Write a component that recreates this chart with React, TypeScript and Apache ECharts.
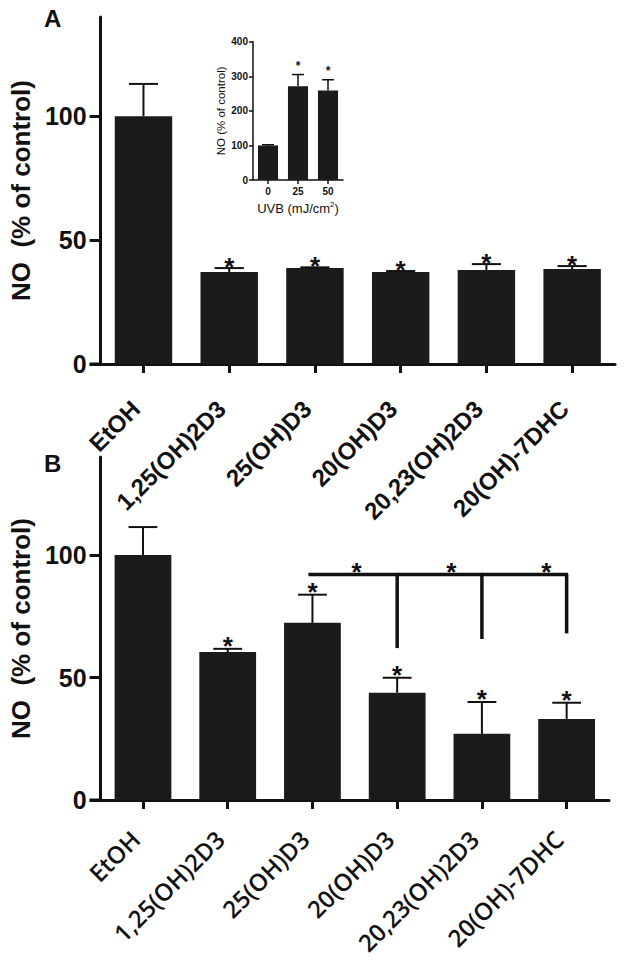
import React, { useEffect, useRef } from "react";
import * as echarts from "echarts";

// ---------- data ----------
const categories = ["EtOH", "1,25(OH)2D3", "25(OH)D3", "20(OH)D3", "20,23(OH)2D3", "20(OH)-7DHC"];
const meanA = [100, 37.1, 38.7, 37.1, 37.9, 38.3];
const errA = [13, 1.6, 0.3, 0.4, 2.4, 1.2];
const sigA = [0, 1, 1, 1, 1, 1];
const meanB = [100, 60.4, 72.3, 43.8, 27.0, 33.1];
const errB = [11.4, 1.3, 11.5, 6.1, 13.0, 6.6];
const sigB = [0, 1, 1, 1, 1, 1];
const insetCategories = ["0", "25", "50"];
const insetMean = [100, 271, 259];
const insetErr = [2, 34, 31];
const insetSig = [0, 1, 1];
const yTicksMain = [0, 50, 100];
const yTicksInset = [0, 100, 200, 300, 400];
const bracketFrom = 2;
const bracketLevel = 92;
const bracketDrops = [
  [3, 62],
  [4, 65.7],
  [5, 68],
];
const bracketStars = [2.52, 3.64, 4.76];

const ARIAL = "'Liberation Sans', Arial, Helvetica, sans-serif";
const OPEN = "'Open Sans', 'Liberation Sans', sans-serif";
const INK = "#111111";
const BAR = "#1b1b1b";

function errRenderer(capFrac: number, lw: number, starSize: number, starGap: number) {
  return (params: any, api: any) => {
    const i = api.value(0);
    const m = api.value(1);
    const e = api.value(2);
    const s = api.value(3);
    const top = api.coord([i, m]);
    const end = api.coord([i, m + e]);
    const half = api.size([1, 0])[0] * capFrac;
    const children: any[] = [];
    if (e > 0) {
      children.push({
        type: "line",
        shape: { x1: top[0], y1: top[1], x2: end[0], y2: end[1] },
        style: { stroke: INK, lineWidth: lw },
      });
      children.push({
        type: "line",
        shape: { x1: end[0] - half, y1: end[1], x2: end[0] + half, y2: end[1] },
        style: { stroke: INK, lineWidth: lw },
      });
    }
    if (s) {
      children.push({
        type: "text",
        x: end[0],
        y: end[1] - starGap,
        style: {
          text: "*",
          fontSize: starSize,
          fontWeight: "bold",
          fontFamily: ARIAL,
          fill: INK,
          align: "center",
          verticalAlign: "middle",
        },
      });
    }
    return { type: "group", children };
  };
}

// short extension of the x axis line to the left of the y axis (Prism style)
function stubRenderer(params: any, api: any) {
  const p = api.coord([api.value(0), 0]);
  const band = api.size([1, 0])[0];
  const ox = p[0] - band / 2;
  return {
    type: "line",
    shape: { x1: ox - 11, y1: p[1], x2: ox, y2: p[1] },
    style: { stroke: INK, lineWidth: 3 },
  };
}

function bracketRenderer(params: any, api: any) {
  const k = params.dataIndex;
  const x = api.value(0);
  const y = api.value(1);
  const sx = api.value(2);
  const prevX = k === 0 ? bracketFrom : bracketDrops[k - 1][0];
  const band = api.size([1, 0])[0];
  const p0 = api.coord([prevX, bracketLevel]);
  const p1 = api.coord([x, bracketLevel]);
  const p2 = api.coord([x, y]);
  const sBase = api.coord([Math.floor(sx), bracketLevel]);
  const starX = sBase[0] + (sx - Math.floor(sx)) * band;
  const lw = 3.5;
  return {
    type: "group",
    children: [
      {
        type: "line",
        shape: { x1: k === 0 ? p0[0] - 4 : p0[0], y1: p0[1], x2: p1[0] + 1.5, y2: p1[1] },
        style: { stroke: INK, lineWidth: lw },
      },
      {
        type: "line",
        shape: { x1: p1[0], y1: p1[1], x2: p2[0], y2: p2[1] },
        style: { stroke: INK, lineWidth: lw },
      },
      {
        type: "text",
        x: starX,
        y: p0[1] - 3,
        style: {
          text: "*",
          fontSize: 26,
          fontWeight: "bold",
          fontFamily: ARIAL,
          fill: INK,
          align: "center",
          verticalAlign: "middle",
        },
      },
    ],
  };
}

function mainY(gridIndex: number) {
  return {
    gridIndex,
    type: "value",
    min: 0,
    max: 140,
    interval: 50,
    axisLine: { show: true, lineStyle: { color: INK, width: 3 } },
    axisTick: { show: true, length: 11, lineStyle: { color: INK, width: 3 }, customValues: yTicksMain },
    axisLabel: {
      customValues: yTicksMain,
      formatter: (v: number) => (yTicksMain.indexOf(v) >= 0 ? String(v) : ""),
      fontSize: 25,
      fontWeight: "bold",
      fontFamily: ARIAL,
      color: INK,
      margin: 14,
    },
    splitLine: { show: false },
    name: "NO  (% of control)",
    nameLocation: "middle",
    nameGap: 56,
    nameTextStyle: { fontSize: 26, fontWeight: "bold", fontFamily: ARIAL, color: INK },
  };
}

function mainX(gridIndex: number, font: string, weight: any, size: number, margin: number, padEnd: number) {
  return {
    gridIndex,
    type: "category",
    data: categories,
    axisLine: { show: true, lineStyle: { color: INK, width: 3 } },
    axisTick: { show: true, alignWithLabel: true, length: 9, lineStyle: { color: INK, width: 3 } },
    axisLabel: {
      rotate: 45,
      interval: 0,
      fontSize: size,
      fontWeight: weight,
      fontFamily: font,
      color: INK,
      margin,
      padding: [0, padEnd, 0, 0],
    },
    splitLine: { show: false },
  };
}

export default function App() {
  const ref = useRef<HTMLDivElement>(null);
  useEffect(() => {
    if (!ref.current) return;
    const chart = echarts.init(ref.current, undefined, { renderer: "svg" });
    const option: any = {
      animation: false,
      backgroundColor: "#ffffff",
      grid: [
        { left: 93, top: 17, width: 522, height: 347 },
        { left: 93, top: 457, width: 516, height: 343 },
        { left: 253, top: 41.7, width: 90, height: 138.3 },
      ],
      xAxis: [
        mainX(0, ARIAL, "bold", 24, 33, 11),
        mainX(1, OPEN, 600, 24, 27, 11),
        {
          gridIndex: 2,
          type: "category",
          data: insetCategories,
          axisLine: { show: true, lineStyle: { color: INK, width: 1.5 } },
          axisTick: { show: true, alignWithLabel: true, length: 4, lineStyle: { color: INK, width: 1.5 } },
          axisLabel: { fontSize: 10, fontWeight: "bold", fontFamily: ARIAL, color: INK, margin: 6 },
          name: "UVB (mJ/cm{sup|2})",
          nameLocation: "middle",
          nameGap: 20,
          nameTextStyle: {
            fontSize: 13,
            fontFamily: ARIAL,
            color: INK,
            rich: { sup: { fontSize: 8, fontFamily: ARIAL, color: INK, padding: [0, 0, 8, 0] } },
          },
        },
      ],
      yAxis: [
        mainY(0),
        mainY(1),
        {
          gridIndex: 2,
          type: "value",
          min: 0,
          max: 400,
          interval: 100,
          axisLine: { show: true, lineStyle: { color: INK, width: 1.5 } },
          axisTick: { show: true, length: 4, lineStyle: { color: INK, width: 1.5 }, customValues: yTicksInset },
          axisLabel: {
            customValues: yTicksInset,
            fontSize: 10,
            fontWeight: "bold",
            fontFamily: ARIAL,
            color: INK,
            margin: 5,
          },
          splitLine: { show: false },
          name: "NO (% of control)",
          nameLocation: "middle",
          nameGap: 25,
          nameTextStyle: { fontSize: 11.5, fontFamily: ARIAL, color: INK },
        },
      ],
      graphic: [
        { type: "text", left: 44, top: 6, style: { text: "A", fontSize: 24, fontWeight: "bold", fontFamily: ARIAL, fill: INK } },
        { type: "text", left: 44, top: 451, style: { text: "B", fontSize: 24, fontWeight: "bold", fontFamily: ARIAL, fill: INK } },
      ],
      series: [
        { type: "bar", xAxisIndex: 0, yAxisIndex: 0, data: meanA, barCategoryGap: "33%", itemStyle: { color: BAR }, z: 2 },
        {
          type: "custom",
          xAxisIndex: 0,
          yAxisIndex: 0,
          data: meanA.map((m, i) => [i, m, errA[i], sigA[i]]),
          renderItem: errRenderer(0.17, 2, 26, 1),
          z: 3,
          clip: false,
        },
        { type: "custom", xAxisIndex: 0, yAxisIndex: 0, data: [[0, 0]], renderItem: stubRenderer, z: 3, clip: false, silent: true },
        { type: "bar", xAxisIndex: 1, yAxisIndex: 1, data: meanB, barCategoryGap: "33%", itemStyle: { color: BAR }, z: 2 },
        {
          type: "custom",
          xAxisIndex: 1,
          yAxisIndex: 1,
          data: meanB.map((m, i) => [i, m, errB[i], sigB[i]]),
          renderItem: errRenderer(0.17, 2, 26, 3),
          z: 3,
          clip: false,
        },
        {
          type: "custom",
          xAxisIndex: 1,
          yAxisIndex: 1,
          data: bracketDrops.map((d, k) => [d[0], d[1], bracketStars[k]]),
          renderItem: bracketRenderer,
          z: 3,
          clip: false,
        },
        { type: "custom", xAxisIndex: 1, yAxisIndex: 1, data: [[0, 0]], renderItem: stubRenderer, z: 3, clip: false, silent: true },
        { type: "bar", xAxisIndex: 2, yAxisIndex: 2, data: insetMean, barCategoryGap: "33%", itemStyle: { color: BAR }, z: 2 },
        {
          type: "custom",
          xAxisIndex: 2,
          yAxisIndex: 2,
          data: insetMean.map((m, i) => [i, m, insetErr[i], insetSig[i]]),
          renderItem: errRenderer(0.2, 1.5, 12, 9),
          z: 3,
          clip: false,
        },
      ],
    };
    chart.setOption(option);
    return () => chart.dispose();
  }, []);
  return (
    <div
      ref={ref}
      style={{ position: "absolute", left: 0, top: 0, width: 624, height: 963, background: "#fff" }}
    />
  );
}
